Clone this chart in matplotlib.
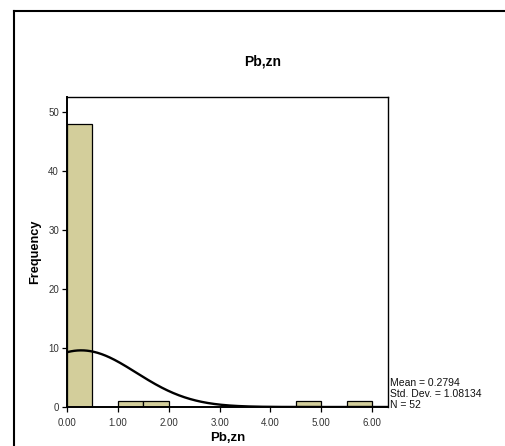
import numpy as np
import matplotlib
matplotlib.use("Agg")
import matplotlib.pyplot as plt
from matplotlib.lines import Line2D

# Data
bin_left = [0.0, 0.5, 1.0, 1.5, 2.0, 2.5, 3.0, 3.5, 4.0, 4.5, 5.0, 5.5]
counts = [48, 0, 1, 1, 0, 0, 0, 0, 0, 1, 0, 1]
bin_width = 0.5
mean_val = 0.2794
std_val = 1.08134
n_val = 52
xticks = [0, 1, 2, 3, 4, 5, 6]
xticklabels = ["0.00", "1.00", "2.00", "3.00", "4.00", "5.00", "6.00"]
yticks = [0, 10, 20, 30, 40, 50]

plt.rcParams['font.family'] = ['Liberation Sans', 'DejaVu Sans']

W, H = 506, 446
fig = plt.figure(figsize=(W / 100, H / 100), dpi=100)

# axes rectangle in pixels: left 67, right 388, top 97, bottom 407
l, r, t, b = 67, 388, 97, 407
ax = fig.add_axes([l / W, 1 - b / H, (r - l) / W, (b - t) / H])

bar_color = "#D3CE9B"
for x0, c in zip(bin_left, counts):
    if c > 0:
        ax.bar(x0, c, width=bin_width, align='edge', color=bar_color,
               edgecolor='black', linewidth=0.9, zorder=2)

xmax = 6.31
xs = np.linspace(0, xmax, 400)
ys = n_val * bin_width / (std_val * np.sqrt(2 * np.pi)) * np.exp(-0.5 * ((xs - mean_val) / std_val) ** 2)
ax.plot(xs, ys, color='black', linewidth=1.7, zorder=3)

ax.set_xlim(0, xmax)
ax.set_ylim(0, 52.5)
ax.set_xticks(xticks)
ax.set_xticklabels(xticklabels)
ax.set_yticks(yticks)
ax.tick_params(axis='both', direction='out', length=3.8, width=0.9,
               labelsize=7, labelcolor='#333333', pad=2)
ax.tick_params(axis='x', pad=4)
for s in ['left', 'bottom']:
    ax.spines[s].set_linewidth(1.4)
for s in ['top', 'right']:
    ax.spines[s].set_linewidth(1.0)

ax.set_xlabel("Pb,zn", fontsize=9.5, fontweight='bold', labelpad=3)
ax.set_ylabel("Frequency", fontsize=9.2, fontweight='bold', labelpad=5)

fig.text(263 / W, 1 - 61 / H, "Pb,zn", fontsize=10, fontweight='bold',
         ha='center', va='center')

# stats text
stats = ["Mean = 0.2794", "Std. Dev. = 1.08134", "N = 52"]
for i, s in enumerate(stats):
    y = 383.5 + i * 10.5
    fig.text(390 / W, 1 - y / H, s, fontsize=7.5, ha='left', va='center',
             color='#111111')

# outer frame (top and left)
fig.add_artist(Line2D([14 / W, 14 / W], [1 - 446 / H, 1 - 11 / H],
                      transform=fig.transFigure, color='black', linewidth=1.5))
fig.add_artist(Line2D([14 / W, 1.0], [1 - 11 / H, 1 - 11 / H],
                      transform=fig.transFigure, color='black', linewidth=1.5))

fig.savefig("out.png", dpi=100)
